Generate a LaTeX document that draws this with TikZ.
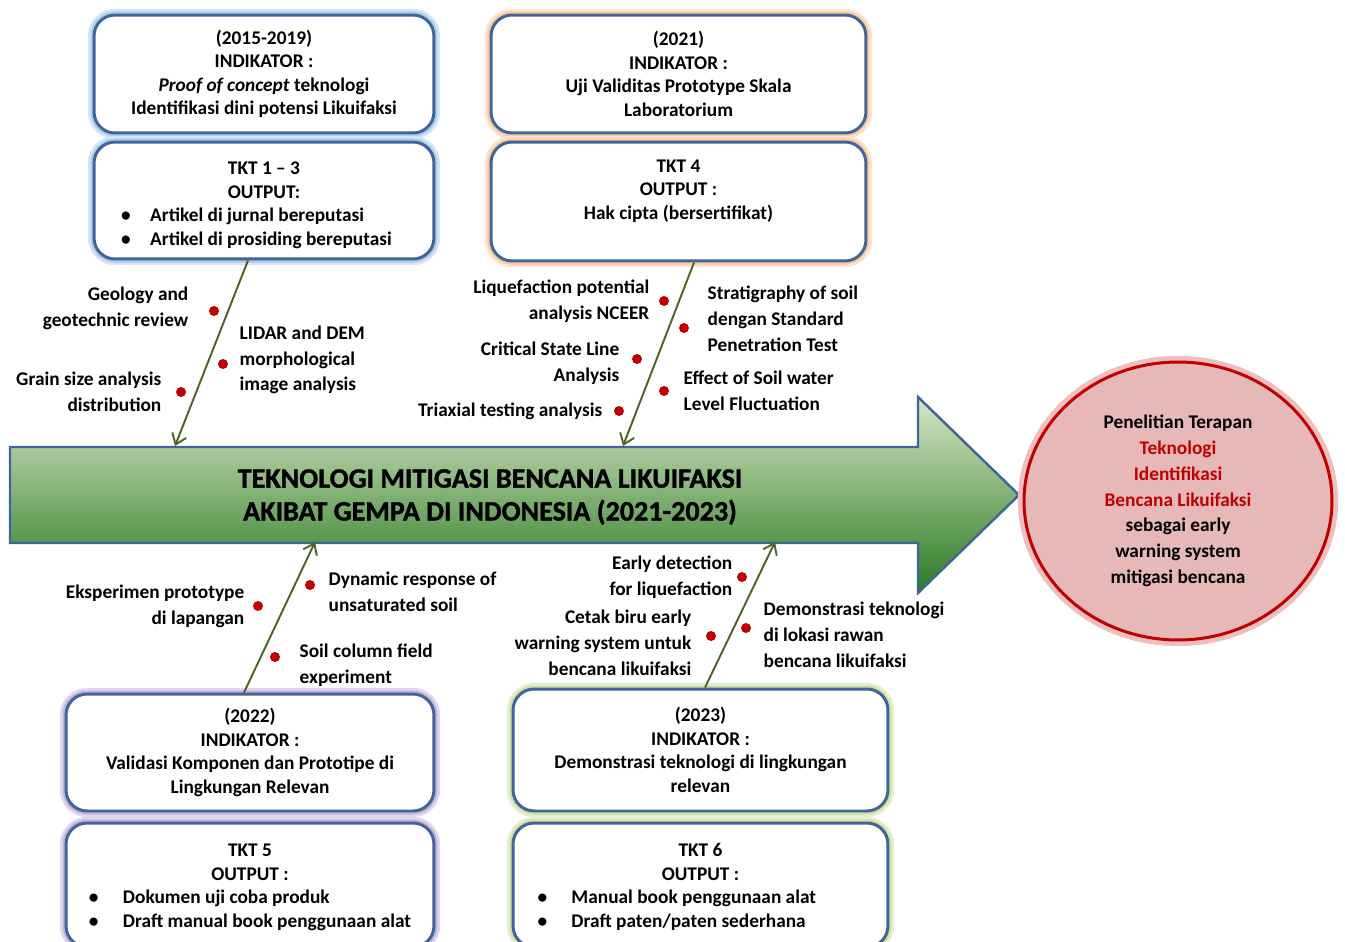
\documentclass[tikz,border=0pt]{standalone}
\usepackage{fontspec}
\setmainfont{Carlito}
\newfontfamily\judulfont[BoldFeatures={FakeBold=1.2}]{Carlito}
\usetikzlibrary{shapes.geometric}
\usetikzlibrary{arrows.meta}
\usetikzlibrary{positioning,calc}
\definecolor{garis}{HTML}{41659A}
\definecolor{biru}{HTML}{9DC3E6}
\definecolor{oranye}{HTML}{FBC08F}
\definecolor{ungu}{HTML}{B9A5D2}
\definecolor{hijau}{HTML}{C4DC96}
\definecolor{tulang}{HTML}{4F6228}
\definecolor{merah}{HTML}{C00000}
\definecolor{merahmuda}{HTML}{E6B9B8}
\definecolor{panahatas}{HTML}{D8E6C6}
\definecolor{panahtengah}{HTML}{A3C27C}
\definecolor{panahbawah}{HTML}{2A7A22}
\tikzset{
	kotak/.style = {draw=garis, line width=1.7pt, rounded corners=0.42cm,
		fill=white, align=center, inner sep=0pt,
		font=\bfseries\fontsize{11}{13.4}\selectfont,
		preaction={draw=#1!45, line width=7pt},
		preaction={draw=#1!85, line width=4pt}},% kotak indikator / TKT
	titik/.style = {circle, fill=merah, inner sep=0pt, minimum size=0.2cm},% titik merah
	ket_l/.style = {align=right, inner sep=0pt,
		font=\bfseries\fontsize{11}{14.7}\selectfont},% keterangan kiri
	ket_r/.style = {align=left, inner sep=0pt,
		font=\bfseries\fontsize{11}{14.7}\selectfont},% keterangan kanan
	tulang_p/.style = {draw=tulang, line width=1.1pt,
		-{Straight Barb[length=0.2cm, width=0.3cm]}}% tulang ikan
}
% daftar poin: lebar kolom poin, baris 1, baris 2, geser ke kiri
\newcommand{\poin}[4]{\begin{tabular}[t]{@{}p{#1}@{}l@{\hspace{#4}}}•&#2\\•&#3\end{tabular}}

\begin{document}
\begin{tikzpicture}[x=0.02cm, y=0.02cm]
	\useasboundingbox (0,0) rectangle (1345,-942);
	% kotak atas
	\node[kotak=biru, minimum width=6.8cm, minimum height=2.36cm] (ind1519) at (264,-74)
		{(2015-2019)\\INDIKATOR :\\\textit{Proof of concept} teknologi\\Identifikasi dini potensi Likuifaksi};
	\node[kotak=biru, minimum width=6.8cm, minimum height=2.34cm] (tkt13) at (264,-200.5)
		{\rule{0pt}{15pt}TKT 1 – 3\\OUTPUT:\\\poin{0.58cm}{Artikel di jurnal bereputasi}{Artikel di prosiding bereputasi}{0.3cm}};
	\node[kotak=oranye, minimum width=7.5cm, minimum height=2.36cm] (ind21) at (678.5,-74)
		{(2021)\\INDIKATOR :\\Uji Validitas Prototype Skala\\Laboratorium};
	\node[kotak=oranye, minimum width=7.5cm, minimum height=2.38cm] (tkt4) at (678.5,-201.5)
		{TKT 4\\OUTPUT :\\Hak cipta (bersertifikat)\\\mbox{}};
	% kotak bawah
	\node[kotak=ungu, minimum width=7.36cm, minimum height=2.34cm] (ind22) at (250,-752.5)
		{(2022)\\INDIKATOR :\\Validasi Komponen dan Prototipe di\\Lingkungan Relevan};
	\node[kotak=ungu, minimum width=7.36cm, minimum height=2.48cm] (tkt5) at (250,-885)
		{\rule{0pt}{12pt}TKT 5\\OUTPUT :\\\poin{0.68cm}{Dokumen uji coba produk}{Draft manual book penggunaan alat}{0cm}};
	\node[kotak=hijau, minimum width=7.5cm, minimum height=2.44cm] (ind23) at (700.5,-750)
		{(2023)\\INDIKATOR :\\Demonstrasi teknologi di lingkungan\\relevan};
	\node[kotak=hijau, minimum width=7.5cm, minimum height=2.48cm] (tkt6) at (700.5,-885)
		{\rule{0pt}{12pt}TKT 6\\OUTPUT :\\\poin{0.68cm}{Manual book penggunaan alat}{Draft paten/paten sederhana}{0.95cm}};

	% panah utama
	\draw[draw=garis, line width=1.4pt, top color=panahatas, middle color=panahtengah,
		bottom color=panahbawah] (10,-447) -- (918,-447) -- (918,-397) -- (1019,-495)
		-- (918,-593) -- (918,-543) -- (10,-543) -- cycle;
	\node[font=\judulfont\bfseries\fontsize{16}{18.7}\selectfont, align=center] (judul) at (490,-497)
		{TEKNOLOGI MITIGASI BENCANA LIKUIFAKSI\\AKIBAT GEMPA DI INDONESIA (2021-2023)};

	% lingkaran hasil
	\node[ellipse, draw=merah, line width=1.7pt, fill=merahmuda, minimum width=6.16cm,
		minimum height=5.56cm, preaction={draw=merah!25, line width=7pt}, align=center,
		font=\bfseries\fontsize{11}{14.7}\selectfont] (hasil) at (1178,-501)
		{Penelitian Terapan\\\textcolor{merah}{Teknologi}\\\textcolor{merah}{Identifikasi}\\
		\textcolor{merah}{Bencana Likuifaksi}\\sebagai early\\warning system\\mitigasi bencana};

	% tulang ikan
	\coordinate (ul_end) at (175,-446);
	\coordinate (ur_end) at (623,-446);
	\coordinate (ll_end) at (315,-542);
	\coordinate (lr_end) at (775,-542);
	\draw[tulang_p] ($(tkt13.south)+(-16,0)$) -- (ul_end);
	\draw[tulang_p] ($(tkt4.south)+(15.5,0)$) -- (ur_end);
	\draw[tulang_p] ($(ind22.north)+(-6,0)$) -- (ll_end);
	\draw[tulang_p] ($(ind23.north)+(4.5,0)$) -- (lr_end);

	% kiri atas
	\node[titik] (t1) at (214,-311) {};
	\node[titik] (t2) at (223,-364) {};
	\node[titik] (t3) at (181,-392) {};
	\node[ket_l, left=0.4cm of t1, yshift=0.06cm] (k1) {Geology and\\geotechnic review};
	\node[ket_r, right=0.22cm of t2, yshift=0.08cm] (k2) {LIDAR and DEM\\morphological\\image analysis};
	\node[ket_l, left=0.28cm of t3] (k3) {Grain size analysis\\distribution};
	% kanan atas
	\node[titik] (t4) at (664,-301) {};
	\node[titik] (t5) at (684,-328) {};
	\node[titik] (t6) at (637,-359) {};
	\node[titik] (t7) at (664,-391) {};
	\node[titik] (t8) at (619,-411) {};
	\node[ket_l, left=0.18cm of t4] (k4) {Liquefaction potential\\analysis NCEER};
	\node[ket_r, right=0.36cm of t5, yshift=0.18cm] (k5) {Stratigraphy of soil\\dengan Standard\\Penetration Test};
	\node[ket_l, left=0.24cm of t6, yshift=-0.08cm] (k6) {Critical State Line\\Analysis};
	\node[ket_r, right=0.28cm of t7] (k7) {Effect of Soil water\\Level Fluctuation};
	\node[ket_l, left=0.22cm of t8] (k8) {Triaxial testing analysis};
	% kiri bawah
	\node[titik] (t9) at (310,-585) {};
	\node[titik] (t10) at (258,-606) {};
	\node[titik] (t11) at (275,-657) {};
	\node[ket_r, right=0.26cm of t9, yshift=-0.14cm] (k9) {Dynamic response of\\unsaturated soil};
	\node[ket_l, left=0.16cm of t10] (k10) {Eksperimen prototype\\di lapangan};
	\node[ket_r, right=0.38cm of t11, yshift=-0.16cm] (k11) {Soil column field\\experiment};
	% kanan bawah
	\node[titik] (t12) at (742,-577) {};
	\node[titik] (t13) at (711,-636) {};
	\node[titik] (t14) at (746,-628) {};
	\node[ket_l, left=0.08cm of t12] (k12) {Early detection\\for liquefaction};
	\node[ket_l, left=0.28cm of t13, yshift=-0.14cm] (k13) {Cetak biru early\\warning system untuk\\bencana likuifaksi};
	\node[ket_r, right=0.24cm of t14, yshift=-0.14cm] (k14) {Demonstrasi teknologi\\di lokasi rawan\\bencana likuifaksi};
\end{tikzpicture}
\end{document}
